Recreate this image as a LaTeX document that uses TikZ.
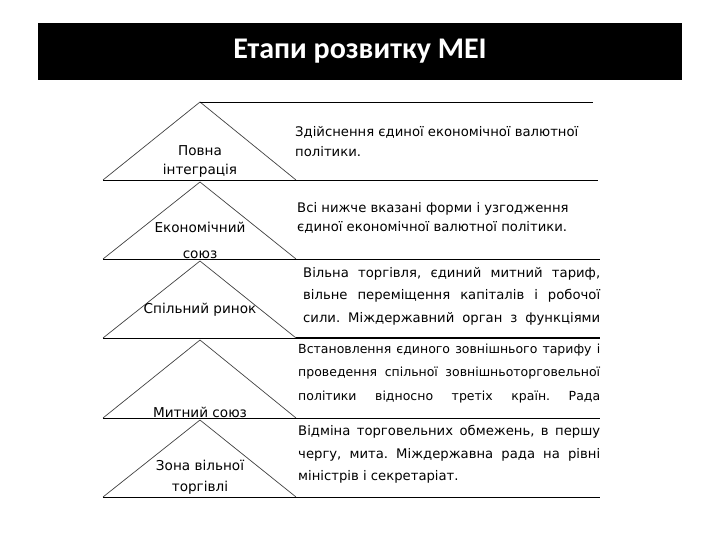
\documentclass[tikz,border=0pt]{standalone}
\usepackage{fontspec}
\setmainfont{DejaVu Sans}
\newfontfamily\titlefont{Carlito}
\usepackage{tikz}
\usetikzlibrary{positioning, calc}
\newcommand\jline[2][302pt]{\makebox[#1][s]{#2}}
\frenchspacing

\begin{document}
\begin{tikzpicture}[x=1pt, y=-1pt,
  tri/.style={draw=black!75, line width=0.7pt},
  rule/.style={draw=black, line width=0.8pt},
  stage/.style={align=center, inner sep=0pt, font=\fontsize{13.6}{19}\selectfont},
  desc/.style={anchor=west, align=left, inner sep=0pt, font=\fontsize{13.2}{22.5}\selectfont}
]
\useasboundingbox (0,0) rectangle (720,540);
\node[fill=black, minimum width=644pt, minimum height=57pt, inner sep=0pt] at (360,51.5) (titlebar) {};
\node[text=white, font=\titlefont\bfseries\fontsize{30}{32}\selectfont] at (titlebar.center) (title) {Етапи розвитку МЕІ};
% triangles, apex and base corners
\coordinate (t1) at (200,102); \coordinate (b1l) at (103,180); \coordinate (b1r) at (296,180);
\coordinate (t2) at (200,182); \coordinate (b2l) at (103,259); \coordinate (b2r) at (296,259);
\coordinate (t3) at (200,261); \coordinate (b3l) at (103,338); \coordinate (b3r) at (296,338);
\coordinate (t4) at (200,340); \coordinate (b4l) at (103,418); \coordinate (b4r) at (296,418);
\coordinate (t5) at (200,420); \coordinate (b5l) at (103,497); \coordinate (b5r) at (296,497);
\coordinate (e0) at (593,102);
\coordinate (e1) at (598,180);
\coordinate (e2) at (600,259);
\coordinate (e3) at (600,338);
\coordinate (e4) at (600,418);
\coordinate (e5) at (600,497);
\draw[tri] (b1l) -- (t1) -- (b1r);
\draw[tri] (b2l) -- (t2) -- (b2r);
\draw[tri] (b3l) -- (t3) -- (b3r);
\draw[tri] (b4l) -- (t4) -- (b4r);
\draw[tri] (b5l) -- (t5) -- (b5r);
\draw[rule] (t1) -- (e0);
\draw[rule] (b1l) -- (e1);
\draw[rule] (b2l) -- (e2);
\draw[rule] (b3l) -- (e3);
\draw[rule, line width=2pt] (b3r) -- (e3);
\draw[rule] (b4l) -- (e4);
\draw[rule] (b5l) -- (e5);
% stage names
\node[stage] at (200,161) (full) {Повна\\інтеграція};
\node[stage, font=\fontsize{13.6}{26}\selectfont] at (200,240) (econ) {Економічний\\союз};
\node[stage] at (200,310) (common) {Спільний ринок};
\node[stage] at (200,412) (customs) {Митний союз};
\node[stage, font=\fontsize{13.6}{21}\selectfont] at (200,477.5) (freetrade) {Зона вільної\\торгівлі};
% descriptions
\node[desc, font=\fontsize{13.2}{20}\selectfont] at (295,142) (fulltxt) {Здійснення єдиної економічної валютної\\політики.};
\node[desc, font=\fontsize{13.2}{19}\selectfont] at (297,217.5) (econtxt) {Всі нижче вказані форми і узгодження\\єдиної економічної валютної політики.};
\node[desc] at (303,296) (commontxt) {\jline[297pt]{Вільна торгівля, єдиний митний тариф,}\\\jline[297pt]{вільне переміщення капіталів і робочої}\\\jline[297pt]{сили. Міждержавний орган з функціями}};
\node[desc, font=\fontsize{12.5}{23.5}\selectfont] at (298,373.5) (customstxt) {\jline{Встановлення єдиного зовнішнього тарифу і}\\\jline{проведення спільної зовнішньоторговельної}\\\jline{політики відносно третіх країн. Рада}};
\node[desc] at (298,454.5) (freetradetxt) {\jline{Відміна торговельних обмежень, в першу}\\\jline{чергу, мита. Міждержавна рада на рівні}\\міністрів і секретаріат.};
\end{tikzpicture}
\end{document}
